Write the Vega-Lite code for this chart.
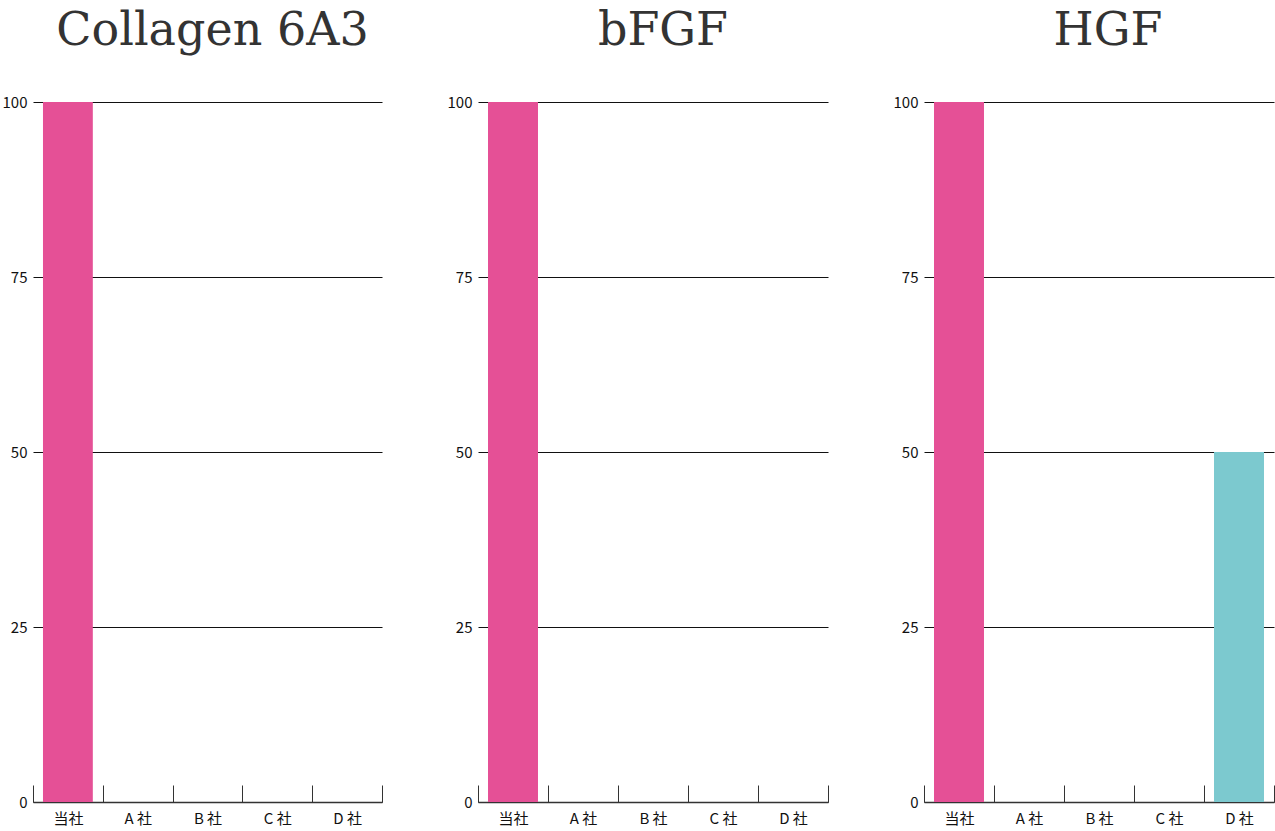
{
  "$schema": "https://vega.github.io/schema/vega-lite/v6.json",
  "padding": {"left": 2, "top": 8, "right": 0, "bottom": 0},
  "background": "white",
  "data": {
    "values": [
      {"panel": "Collagen 6A3", "company": "当社", "value": 100},
      {"panel": "Collagen 6A3", "company": "A 社", "value": 0},
      {"panel": "Collagen 6A3", "company": "B 社", "value": 0},
      {"panel": "Collagen 6A3", "company": "C 社", "value": 0},
      {"panel": "Collagen 6A3", "company": "D 社", "value": 0},
      {"panel": "bFGF", "company": "当社", "value": 100},
      {"panel": "bFGF", "company": "A 社", "value": 0},
      {"panel": "bFGF", "company": "B 社", "value": 0},
      {"panel": "bFGF", "company": "C 社", "value": 0},
      {"panel": "bFGF", "company": "D 社", "value": 0},
      {"panel": "HGF", "company": "当社", "value": 100},
      {"panel": "HGF", "company": "A 社", "value": 0},
      {"panel": "HGF", "company": "B 社", "value": 0},
      {"panel": "HGF", "company": "C 社", "value": 0},
      {"panel": "HGF", "company": "D 社", "value": 50}
    ]
  },
  "spacing": 64,
  "hconcat": [
    {
      "title": {"text": "Collagen 6A3", "dx": 5},
      "transform": [{"filter": "datum.panel === 'Collagen 6A3'"}],
      "width": 349,
      "height": 700,
      "mark": {"type": "bar", "width": {"band": 0.714}},
      "encoding": {
        "x": {"field": "company", "type": "nominal", "sort": ["当社", "A 社", "B 社", "C 社", "D 社"], "scale": {"paddingInner": 0, "paddingOuter": 0}},
        "y": {"field": "value", "type": "quantitative", "scale": {"domain": [0, 100]}, "axis": {"values": [0, 25, 50, 75, 100]}},
        "color": {"field": "company", "type": "nominal", "scale": {"domain": ["当社", "A 社", "B 社", "C 社", "D 社"], "range": ["#e55096", "#e55096", "#e55096", "#e55096", "#7cc9cf"]}, "legend": null}
      }
    },
    {
      "title": {"text": "bFGF", "dx": 10},
      "transform": [{"filter": "datum.panel === 'bFGF'"}],
      "width": 350,
      "height": 700,
      "mark": {"type": "bar", "width": {"band": 0.714}},
      "encoding": {
        "x": {"field": "company", "type": "nominal", "sort": ["当社", "A 社", "B 社", "C 社", "D 社"], "scale": {"paddingInner": 0, "paddingOuter": 0}},
        "y": {"field": "value", "type": "quantitative", "scale": {"domain": [0, 100]}, "axis": {"values": [0, 25, 50, 75, 100]}},
        "color": {"field": "company", "type": "nominal", "scale": {"domain": ["当社", "A 社", "B 社", "C 社", "D 社"], "range": ["#e55096", "#e55096", "#e55096", "#e55096", "#7cc9cf"]}, "legend": null}
      }
    },
    {
      "title": {"text": "HGF", "dx": 9},
      "transform": [{"filter": "datum.panel === 'HGF'"}],
      "width": 350,
      "height": 700,
      "mark": {"type": "bar", "width": {"band": 0.714}},
      "encoding": {
        "x": {"field": "company", "type": "nominal", "sort": ["当社", "A 社", "B 社", "C 社", "D 社"], "scale": {"paddingInner": 0, "paddingOuter": 0}},
        "y": {"field": "value", "type": "quantitative", "scale": {"domain": [0, 100]}, "axis": {"values": [0, 25, 50, 75, 100]}},
        "color": {"field": "company", "type": "nominal", "scale": {"domain": ["当社", "A 社", "B 社", "C 社", "D 社"], "range": ["#e55096", "#e55096", "#e55096", "#e55096", "#7cc9cf"]}, "legend": null}
      }
    }
  ],
  "resolve": {"scale": {"color": "shared"}},
  "config": {
    "view": {"stroke": null},
    "title": {
      "font": "DejaVu Serif",
      "fontSize": 46,
      "fontWeight": "normal",
      "color": "#333333",
      "anchor": "middle",
      "baseline": "alphabetic",
      "offset": 40
    },
    "axisX": {
      "title": null,
      "labelAngle": 0,
      "labelFont": "Noto Sans CJK JP",
      "labelFontSize": 15,
      "labelColor": "#111111",
      "tickBand": "extent",
      "tickSize": -17,
      "tickColor": "#333333",
      "tickWidth": 1,
      "labelPadding": 26,
      "domainColor": "#333333",
      "domainWidth": 1.5,
      "grid": false
    },
    "axisY": {
      "title": null,
      "domain": false,
      "ticks": false,
      "labelPadding": 6,
      "labelFont": "Noto Sans CJK JP",
      "labelFontSize": 15,
      "labelColor": "#111111",
      "grid": true,
      "gridColor": "#111111",
      "gridWidth": 1
    }
  }
}
